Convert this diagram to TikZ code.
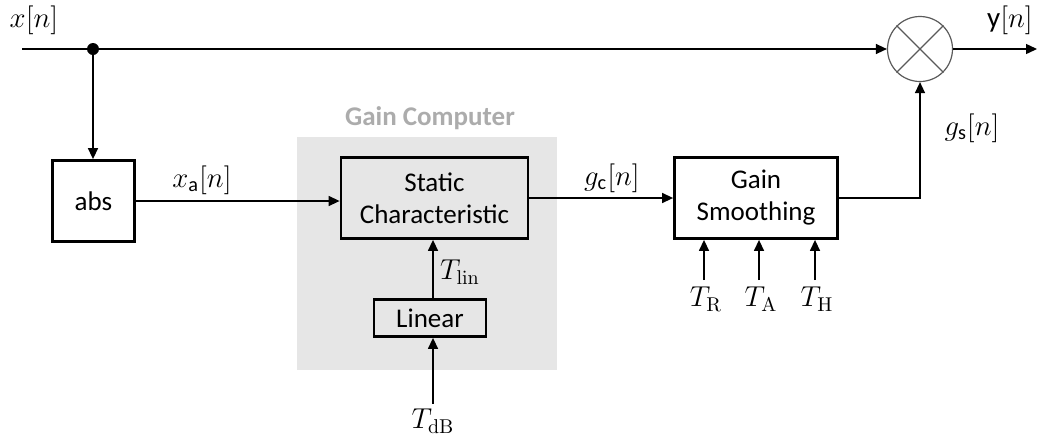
\documentclass[tikz,border=0pt]{standalone}
\usepackage{amsmath}
\usepackage[no-math]{fontspec}
\setmainfont{Carlito}
\usetikzlibrary{arrows.meta,positioning}
\definecolor{gcfill}{RGB}{230,230,230}
\definecolor{gctext}{RGB}{172,172,172}
\definecolor{multgray}{RGB}{90,90,90}

\begin{document}
\begin{tikzpicture}[x=0.5pt,y=-0.5pt,>={Triangle[length=5.5pt,width=5pt]},
	blk/.style={draw,line width=1.4pt,align=center,inner sep=0pt,
		font=\fontsize{13.5}{16}\selectfont},
	sig/.style={line width=0.7pt},
	lbl/.style={font=\fontsize{14.5}{16}\selectfont,inner sep=1pt}]
	\useasboundingbox (0,0) rectangle (1044,440);
	% gain computer background
	\node[fill=gcfill,minimum width=130pt,minimum height=116.5pt,inner sep=0pt] (gcomp) at (427,253.5){};
	\node[font=\bfseries\fontsize{13.5}{16}\selectfont,text=gctext] (gctitle) at (430,118){Gain Computer};
	% blocks
	\node[blk,minimum width=41pt,minimum height=40.5pt] (abs) at (93.5,201){abs};
	\node[blk,minimum width=93.5pt,minimum height=40.5pt] (sc) at (434.5,198){Static\\Characteristic};
	\node[blk,minimum width=56pt,minimum height=18.5pt] (lin) at (430,318){Linear};
	\node[blk,minimum width=81.5pt,minimum height=40.5pt] (gs) at (756,198){Gain\\Smoothing};
	\node[draw=multgray,line width=0.6pt,circle,minimum size=32.5pt,inner sep=0pt] (mult) at (920,49){};
	\draw[multgray,line width=0.6pt] (mult.45)--(mult.225) (mult.135)--(mult.-45);
	\node[circle,fill,inner sep=0pt,minimum size=6pt] (tap) at (93,49){};
	\coordinate (xin) at (22,49);
	\coordinate (yout) at (1037,49);
	\coordinate (trin) at (704,280);
	\coordinate (tain) at (759,280);
	\coordinate (thin) at (815,280);
	% inputs
	\node[lbl] (tdb) at (433,421){$T_{\mathrm{dB}}$};
	\node[lbl] (tr) at (706,299){$T_{\mathrm{R}}$};
	\node[lbl] (ta) at (761,299){$T_{\mathrm{A}}$};
	\node[lbl] (th) at (817,299){$T_{\mathrm{H}}$};
	% signal labels
	\node[lbl] (xl) at (34,20){$x[n]$};
	\node[lbl] (yl) at (1010,20){y$[n]$};
	\node[lbl] (xal) at (202,180){$x_{\text{a}}[n]$};
	\node[lbl] (gcl) at (612,178){$g_{\text{c}}[n]$};
	\node[lbl] (gsl) at (972,128){$g_{\text{s}}[n]$};
	\node[lbl] (tlinl) at (460,272){$T_{\mathrm{lin}}$};
	% connections
	\draw[sig,->] (xin) -- (mult.west);
	\draw[sig,->] (mult.east) -- (yout);
	\draw[sig,->] (tap) -- (tap |- abs.north);
	\draw[sig,->] (abs.east) -- (abs.east -| sc.west);
	\draw[sig,->] (sc.east) -- (gs.west);
	\draw[sig,->] (gs.east) -| (mult.south);
	\draw[sig,->] (lin.north -| 433,0) -- (sc.south -| 433,0);
	\draw[sig,->] (tdb.north) ++(0,-3) -- (lin.south -| tdb.north);
	\draw[sig,->] (trin) -- (trin |- gs.south);
	\draw[sig,->] (tain) -- (tain |- gs.south);
	\draw[sig,->] (thin) -- (thin |- gs.south);
\end{tikzpicture}
\end{document}
